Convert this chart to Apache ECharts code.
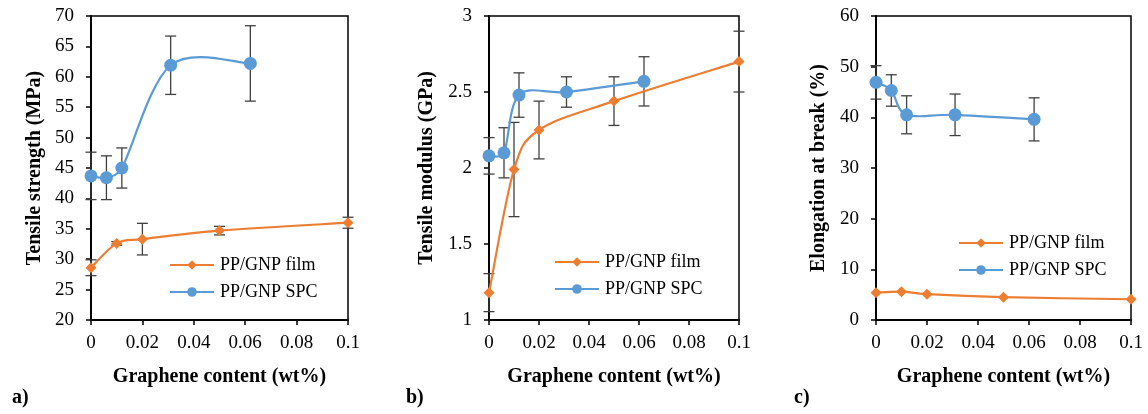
<!DOCTYPE html>
<html>
<head>
<meta charset="utf-8">
<script src="https://cdn.jsdelivr.net/npm/echarts@6/dist/echarts.min.js"></script>
<style>
html,body{margin:0;padding:0;background:#fff;}
#main{width:1148px;height:414px;}
</style>
</head>
<body>
<div id="main"></div>
<script>
// ---- data ----
const filmX = [0, 0.01, 0.02, 0.05, 0.1];
const spcX = [0, 0.006, 0.012, 0.031, 0.062];

const strengthFilm = [28.6, 32.6, 33.3, 34.7, 36.0];
const strengthFilmErr = [1.3, 0.3, 2.6, 0.7, 0.9];
const strengthSpc = [43.7, 43.4, 45.0, 61.9, 62.2];
const strengthSpcErr = [3.9, 3.6, 3.3, 4.8, 6.2];

const modulusFilm = [1.18, 1.99, 2.25, 2.44, 2.70];
const modulusFilmErr = [0.125, 0.31, 0.19, 0.16, 0.20];
const modulusSpc = [2.08, 2.10, 2.48, 2.50, 2.57];
const modulusSpcErr = [0.12, 0.165, 0.146, 0.10, 0.162];

const elongFilm = [5.4, 5.6, 5.1, 4.5, 4.1];
const elongSpc = [46.9, 45.3, 40.5, 40.5, 39.6];
const elongSpcErr = [3.3, 3.1, 3.75, 4.1, 4.25];

const xTicks = [0, 0.02, 0.04, 0.06, 0.08, 0.1];
const yTitles = ['Tensile strength (MPa)', 'Tensile modulus (GPa)', 'Elongation at break (%)'];
const xTitle = 'Graphene content (wt%)';
const panelLabels = ['a)', 'b)', 'c)'];
const seriesNames = ['PP/GNP film', 'PP/GNP SPC'];

// ---- styling / layout ----
const FONT = "'Liberation Serif','Times New Roman',serif";
const ORANGE = '#ED7D31';
const BLUE = '#5B9BD5';
const grids = [
  {left: 91, top: 16, width: 257, height: 304},
  {left: 489, top: 16, width: 250, height: 304},
  {left: 876, top: 16, width: 255, height: 304}
];
const yRanges = [{min: 20, max: 70, interval: 5}, {min: 1, max: 3, interval: 0.5}, {min: 0, max: 60, interval: 10}];
const yNameGaps = [46, 52, 47];
const legendPos = [{left: 169, top: 256}, {left: 554, top: 253}, {left: 958, top: 234}];
const labelPos = [{x: 12, y: 399}, {x: 406, y: 399}, {x: 794, y: 399}];

const chart = echarts.init(document.getElementById('main'), null, {renderer: 'canvas'});

function pairs(xs, ys) { return xs.map((x, i) => [x, ys[i]]); }
function triples(xs, ys, es) { return xs.map((x, i) => [x, ys[i], es[i]]); }

function errRender(params, api) {
  const x = api.value(0), y = api.value(1), e = api.value(2);
  const hi = api.coord([x, y + e]);
  const lo = api.coord([x, y - e]);
  const w = 5.5;
  const st = {stroke: '#404040', lineWidth: 1.3};
  return {
    type: 'group',
    children: [
      {type: 'line', shape: {x1: hi[0], y1: hi[1], x2: lo[0], y2: lo[1]}, style: st},
      {type: 'line', shape: {x1: hi[0] - w, y1: hi[1], x2: hi[0] + w, y2: hi[1]}, style: st},
      {type: 'line', shape: {x1: lo[0] - w, y1: lo[1], x2: lo[0] + w, y2: lo[1]}, style: st}
    ]
  };
}

function dist(a, b) { return Math.hypot(a[0] - b[0], a[1] - b[1]); }

// Excel-like smoothed line: cubic Bezier segments, control points from neighbours
function curveRender(xs, ys, color) {
  return function (params, api) {
    const i = params.dataIndex;
    const n = xs.length;
    if (i >= n - 1) return null;
    const P = k => { const j = Math.max(0, Math.min(n - 1, k)); return api.coord([xs[j], ys[j]]); };
    const p0 = P(i - 1), p1 = P(i), p2 = P(i + 1), p3 = P(i + 2);
    const d02 = dist(p0, p2), d12 = dist(p1, p2), d13 = dist(p1, p3);
    const f0 = (d02 / 6 < d12 / 2 || d02 === 0) ? 1 / 6 : d12 / (2 * d02);
    const f1 = (d13 / 6 < d12 / 2 || d13 === 0) ? 1 / 6 : d12 / (2 * d13);
    return {
      type: 'bezierCurve',
      shape: {
        x1: p1[0], y1: p1[1], x2: p2[0], y2: p2[1],
        cpx1: p1[0] + (p2[0] - p0[0]) * f0, cpy1: p1[1] + (p2[1] - p0[1]) * f0,
        cpx2: p2[0] - (p3[0] - p1[0]) * f1, cpy2: p2[1] - (p3[1] - p1[1]) * f1
      },
      style: {stroke: color, lineWidth: 2.2, fill: null}
    };
  };
}

const panels = [
  {film: strengthFilm, filmErr: strengthFilmErr, spc: strengthSpc, spcErr: strengthSpcErr},
  {film: modulusFilm, filmErr: modulusFilmErr, spc: modulusSpc, spcErr: modulusSpcErr},
  {film: elongFilm, filmErr: null, spc: elongSpc, spcErr: elongSpcErr}
];

const gridOpt = [], xAxes = [], yAxes = [], series = [], legends = [], graphics = [];

panels.forEach((p, i) => {
  gridOpt.push(Object.assign({show: true, borderColor: '#000', borderWidth: 1.5, backgroundColor: 'transparent', containLabel: false}, grids[i]));
  xAxes.push({
    type: 'value', gridIndex: i, min: 0, max: 0.1, interval: 0.02,
    axisLine: {show: true, onZero: false, lineStyle: {color: '#000', width: 2}},
    axisTick: {show: true, length: 5, lineStyle: {color: '#000', width: 1.5}},
    splitLine: {show: false},
    axisLabel: {color: '#000', fontFamily: FONT, fontSize: 19, margin: 14,
      formatter: v => String(+v.toFixed(2))},
    name: xTitle, nameLocation: 'middle', nameGap: 47,
    nameTextStyle: {color: '#000', fontFamily: FONT, fontSize: 20, fontWeight: 'bold'}
  });
  yAxes.push({
    type: 'value', gridIndex: i, min: yRanges[i].min, max: yRanges[i].max, interval: yRanges[i].interval,
    axisLine: {show: true, onZero: false, lineStyle: {color: '#000', width: 2}},
    axisTick: {show: true, length: 5, lineStyle: {color: '#000', width: 1.5}},
    splitLine: {show: false},
    axisLabel: {color: '#000', fontFamily: FONT, fontSize: 19, margin: 17},
    name: yTitles[i], nameLocation: 'middle', nameGap: yNameGaps[i], nameRotate: 90,
    nameTextStyle: {color: '#000', fontFamily: FONT, fontSize: 20, fontWeight: 'bold'}
  });
  if (p.filmErr) {
    series.push({type: 'custom', xAxisIndex: i, yAxisIndex: i, renderItem: errRender, clip: false, z: 1,
      data: triples(filmX, p.film, p.filmErr), silent: true});
  }
  series.push({type: 'custom', xAxisIndex: i, yAxisIndex: i, renderItem: errRender, clip: false, z: 1,
    data: triples(spcX, p.spc, p.spcErr), silent: true});
  series.push({type: 'custom', xAxisIndex: i, yAxisIndex: i, renderItem: curveRender(filmX, p.film, ORANGE),
    clip: false, z: 2, silent: true, data: pairs(filmX, p.film)});
  series.push({type: 'custom', xAxisIndex: i, yAxisIndex: i, renderItem: curveRender(spcX, p.spc, BLUE),
    clip: false, z: 2, silent: true, data: pairs(spcX, p.spc)});
  series.push({
    name: seriesNames[0], type: 'line', xAxisIndex: i, yAxisIndex: i, clip: false, z: 3,
    data: pairs(filmX, p.film), symbol: 'diamond', symbolSize: 11,
    lineStyle: {color: ORANGE, width: 2, opacity: 0}, itemStyle: {color: ORANGE}
  });
  series.push({
    name: seriesNames[1], type: 'line', xAxisIndex: i, yAxisIndex: i, clip: false, z: 4,
    data: pairs(spcX, p.spc), symbol: 'circle', symbolSize: 13,
    lineStyle: {color: BLUE, width: 2, opacity: 0}, itemStyle: {color: BLUE}
  });
  legends.push({
    show: true, orient: 'vertical', left: legendPos[i].left, top: legendPos[i].top, padding: 0,
    itemWidth: 44, itemHeight: 12, itemGap: 9, selectedMode: false,
    data: [
      {name: seriesNames[0], lineStyle: {color: ORANGE, width: 2, opacity: 1}},
      {name: seriesNames[1], lineStyle: {color: BLUE, width: 2, opacity: 1}}
    ],
    textStyle: {color: '#000', fontFamily: FONT, fontSize: 18, lineHeight: 18, padding: [0, 0, 0, 1]}
  });
  graphics.push({type: 'text', left: labelPos[i].x, top: labelPos[i].y - 11,
    style: {text: panelLabels[i], fill: '#000', font: 'bold 20px ' + FONT}});
});

chart.setOption({
  animation: false,
  backgroundColor: '#fff',
  grid: gridOpt,
  xAxis: xAxes,
  yAxis: yAxes,
  legend: legends,
  series: series,
  graphic: graphics
});
</script>
</body>
</html>
